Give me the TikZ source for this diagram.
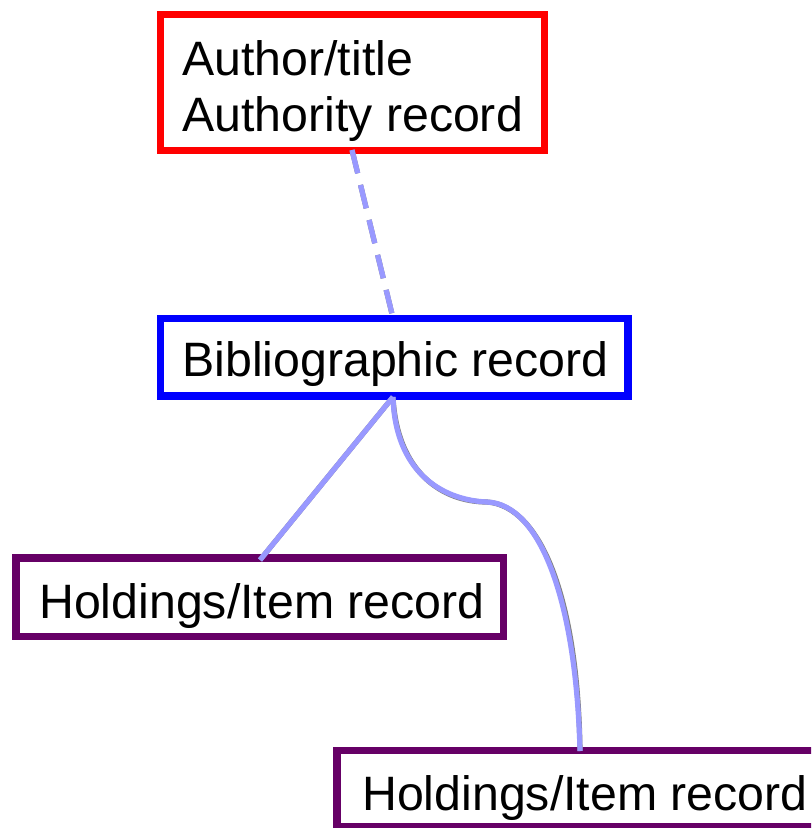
\documentclass[tikz,border=0pt]{standalone}
\usepackage{fontspec}
\setmainfont{Liberation Sans}
\definecolor{authred}{HTML}{FF0000}
\definecolor{bibblue}{HTML}{0000FF}
\definecolor{holdpurple}{HTML}{660066}
\definecolor{linkblue}{HTML}{9999FF}
\definecolor{shadowgray}{HTML}{808080}
\begin{document}
\begin{tikzpicture}[x=0.75pt,y=-0.75pt,
  recbox/.style={draw=#1, line width=5.6pt, fill=white, inner sep=0pt},
  lbl/.style={anchor=base west, inner sep=0pt, font=\fontsize{36.2pt}{42pt}\selectfont},
  linkshadow/.style={draw=shadowgray, line width=3.9pt},
  link/.style={draw=linkblue, line width=3.9pt},
  dashpat/.style={dash pattern=on 18pt off 9pt}]
\clip (0,0) rectangle (811,828);
\fill[white] (0,0) rectangle (811,828);
% boxes
\node[recbox=authred, minimum width=288pt, minimum height=102pt] (auth) at (352.5,82.5) {};
\node[recbox=bibblue, minimum width=350.6pt, minimum height=58.1pt] (bib) at (394.3,357.3) {};
\node[recbox=holdpurple, minimum width=365.6pt, minimum height=58.9pt] (hold1) at (259.75,597.25) {};
\node[recbox=holdpurple, minimum width=361pt, minimum height=57pt] (hold2) at (577.5,788.5) {};
% texts
\node[lbl] (t1) at (182,75) {Author/title};
\node[lbl] (t2) at (182,131) {Authority record};
\node[lbl] (t3) at (182,376) {Bibliographic record};
\node[lbl] (t4) at (39,618) {Holdings/Item record};
\node[lbl] (t5) at (362,810) {Holdings/Item record};
% connection points
\coordinate (aB) at (352,150);
\coordinate (bT) at (393,318);
\coordinate (bB) at (393,397);
\coordinate (h1T) at (260,560);
\coordinate (h2T) at (580,751);
\coordinate (mid) at (487,502);
% shadows
\begin{scope}[shift={(2,2)}]
\draw[linkshadow, dashpat] (aB) -- (bT);
\draw[linkshadow] (bB) -- (h1T);
\draw[linkshadow] (bB) .. controls (395,470) and (440,500) .. (mid) .. controls (540,504) and (576,600) .. (h2T);
\end{scope}
% links
\draw[link, dashpat] (aB) -- (bT);
\draw[link] (bB) -- (h1T);
\draw[link] (bB) .. controls (395,470) and (440,500) .. (mid) .. controls (540,504) and (576,600) .. (h2T);
\end{tikzpicture}
\end{document}
